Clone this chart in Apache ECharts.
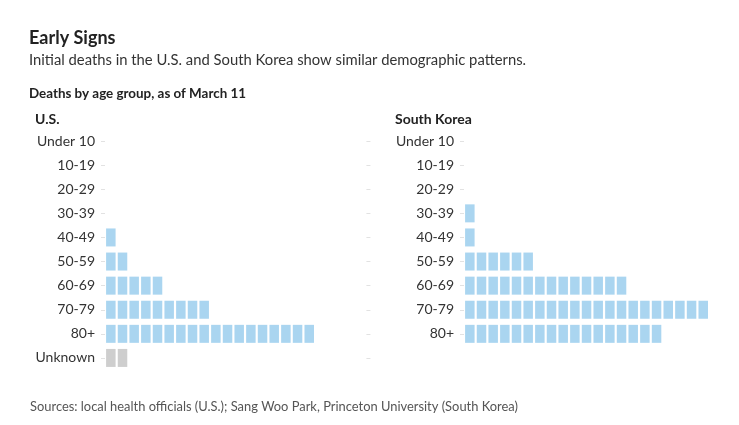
<!DOCTYPE html>
<html>
<head>
<meta charset="utf-8">
<script src="https://cdn.jsdelivr.net/npm/echarts@6/dist/echarts.min.js"></script>
<style>
  html, body { margin: 0; padding: 0; background: #fff; }
  #chart { width: 739px; height: 425px; }
</style>
</head>
<body>
<div id="chart"></div>
<script>
var usAges = ["Under 10", "10-19", "20-29", "30-39", "40-49", "50-59", "60-69", "70-79", "80+", "Unknown"];
var usDeaths = [0, 0, 0, 0, 1, 2, 5, 9, 18, 2];
var krAges = ["Under 10", "10-19", "20-29", "30-39", "40-49", "50-59", "60-69", "70-79", "80+"];
var krDeaths = [0, 0, 0, 1, 1, 6, 14, 21, 17];

var blue = "#95cbec";
var grey = "#c2c2c2";
var font = "Lato";

// one square per death
function squares(ages, counts) {
    var pts = [];
    for (var j = 0; j < counts.length; j++) {
        for (var i = 0; i < counts[j]; i++) {
            pts.push({
                value: [i + 0.5, ages[j]],
                itemStyle: { color: ages[j] == "Unknown" ? grey : blue }
            });
        }
    }
    return pts;
}

var unit = 11.67;
var rowH = 24.1;

function catAxis(gridIndex, ages, pos) {
    return {
        type: "category",
        gridIndex: gridIndex,
        data: ages,
        inverse: true,
        position: pos,
        axisLine: { show: false },
        axisTick: { show: true, alignWithLabel: true, length: 4, lineStyle: { color: "#e2e2e2" } },
        axisLabel: pos == "left" ? { color: "#333", fontFamily: font, fontSize: 14, margin: 10 } : { show: false },
        splitLine: { show: false }
    };
}

function valAxis(gridIndex, max) {
    return {
        type: "value",
        gridIndex: gridIndex,
        min: 0,
        max: max,
        show: false
    };
}

function txt(text, left, top, size, weight, color) {
    return {
        text: text, left: left, top: top, padding: 0,
        textStyle: { fontSize: size, fontWeight: weight, color: color, fontFamily: font }
    };
}

var option = {
    animation: false,
    textStyle: { fontFamily: font },
    title: [
        txt("Early Signs", 29, 29, 18, "bold", "#222"),
        txt("Initial deaths in the U.S. and South Korea show similar demographic patterns.", 29, 53, 14.8, "normal", "#333"),
        txt("Deaths by age group, as of March 11", 29, 87, 13.4, "bold", "#222"),
        txt("U.S.", 35, 112, 14, "bold", "#222"),
        txt("South Korea", 395, 112, 14, "bold", "#222"),
        txt("Sources: local health officials (U.S.); Sang Woo Park, Princeton University (South Korea)", 30, 400, 12.9, "normal", "#555")
    ],
    grid: [
        { left: 105, top: 129, width: 22.4 * unit, height: usAges.length * rowH },
        { left: 464, top: 129, width: 23 * unit, height: krAges.length * rowH }
    ],
    xAxis: [valAxis(0, 22.4), valAxis(1, 23)],
    yAxis: [
        catAxis(0, usAges, "left"),
        catAxis(0, usAges, "right"),
        catAxis(1, krAges, "left")
    ],
    series: [
        {
            type: "scatter",
            xAxisIndex: 0,
            yAxisIndex: 0,
            symbol: "rect",
            symbolSize: [9.5, 18],
            data: squares(usAges, usDeaths)
        },
        {
            type: "scatter",
            xAxisIndex: 1,
            yAxisIndex: 2,
            symbol: "rect",
            symbolSize: [9.5, 18],
            data: squares(krAges, krDeaths)
        }
    ]
};

var chart = echarts.init(document.getElementById("chart"));
chart.setOption(option);
</script>
</body>
</html>
